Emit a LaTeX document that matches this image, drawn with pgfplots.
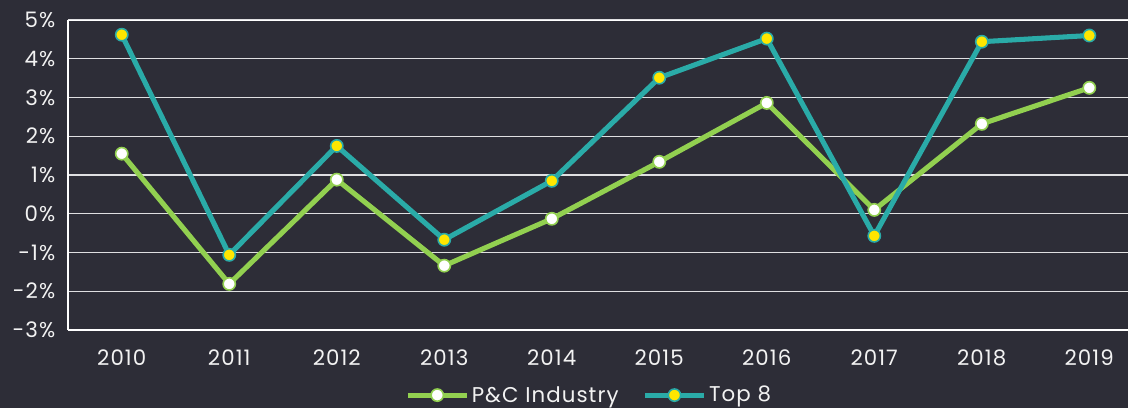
\documentclass[border=0pt]{standalone}
\usepackage{pgfplots}
\pgfplotsset{compat=1.18}
\usepackage{fontspec}
\setmainfont{Poppins}[LetterSpace=5]
\definecolor{bg}{HTML}{2D2D37}
\definecolor{pcgreen}{HTML}{92D050}
\definecolor{topteal}{HTML}{2AABA8}
\definecolor{dotyellow}{HTML}{FFE600}
\begin{document}
\begin{tikzpicture}
\fill[bg] (-51pt,-58.5pt) rectangle (795pt,247.5pt);
\path[use as bounding box] (-51pt,-58.5pt) rectangle (795pt,247.5pt);
\begin{axis}[
  at={(0,0)}, anchor=south west,
  scale only axis,
  width=795pt, height=232.5pt,
  xmin=2009.5, xmax=2019.36,
  ymin=-3, ymax=5,
  xtick={2010,...,2019},
  xticklabels={2010,2011,2012,2013,2014,2015,2016,2017,2018,2019},
  ytick={-3,...,5},
  yticklabels={-3\%,-2\%,-1\%,0\%,1\%,2\%,3\%,4\%,5\%},
  ymajorgrids,
  major grid style={white!85!bg, line width=1.1pt},
  axis x line*=bottom,
  axis y line*=left,
  axis line style={white, line width=1.1pt},
  major tick length=0pt,
  ticklabel style={font=\fontsize{16}{18}\selectfont, text=white!95!black},
  yticklabel style={xshift=-6pt},
  xticklabel style={yshift=-11pt},
  clip=true,
  legend columns=2,
  legend style={at={(0.492,-0.21)}, anchor=center, draw=none, fill=none,
    font=\fontsize{16}{18}\selectfont, text=white!95!black,
    /tikz/every even column/.append style={column sep=16pt}},
  legend image code/.code={
    \draw[#1, mark=none] (0pt,0pt) -- (44pt,0pt);
    \draw[#1, only marks] plot coordinates {(22pt,0pt)};
  },
]
\draw[white, line width=1.6pt] (rel axis cs:0,1) -- (rel axis cs:1,1);
\addplot[color=pcgreen, line width=3.8pt, mark=*, mark size=4.6pt,
  mark options={fill=white, draw=pcgreen, line width=1.2pt}]
  coordinates {(2010,1.55) (2011,-1.81) (2012,0.88) (2013,-1.34) (2014,-0.13)
               (2015,1.34) (2016,2.86) (2017,0.10) (2018,2.32) (2019,3.25)};
\addlegendentry{P\&C Industry}
\addplot[color=topteal, line width=3.8pt, mark=*, mark size=4.6pt,
  mark options={fill=dotyellow, draw=topteal, line width=1.2pt}]
  coordinates {(2010,4.62) (2011,-1.06) (2012,1.75) (2013,-0.67) (2014,0.85)
               (2015,3.51) (2016,4.52) (2017,-0.57) (2018,4.44) (2019,4.60)};
\addlegendentry{Top 8}
\end{axis}
\end{tikzpicture}
\end{document}
